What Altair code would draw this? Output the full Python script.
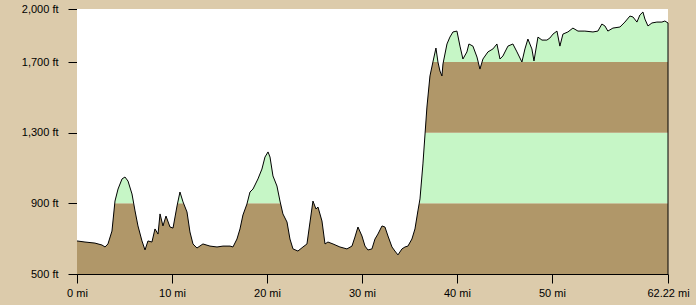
import altair as alt
import pandas as pd

# Elevation profile (distance in miles, elevation in feet)
miles = [0.00, 0.84, 1.89, 2.63, 2.95, 3.26, 3.68, 4.00, 4.32, 4.74, 5.05, 5.37, 5.79, 6.11,
         6.42, 6.84, 7.16, 7.47, 7.89, 8.21, 8.53, 8.74, 9.05, 9.37, 9.79, 10.11, 10.53,
         10.84, 11.16, 11.58, 11.89, 12.21, 12.63, 13.26, 14.00, 14.74, 15.37, 16.11, 16.42,
         16.84, 17.16, 17.47, 17.89, 18.21, 18.53, 19.05, 19.47, 19.79, 20.11, 20.32, 20.63,
         21.05, 21.37, 21.68, 22.11, 22.42, 22.74, 23.26, 23.79, 24.21, 24.53, 24.84, 25.16,
         25.37, 25.79, 26.11, 26.42, 26.95, 27.68, 28.42, 28.95, 29.26, 29.58, 30.00, 30.32,
         30.63, 31.05, 31.37, 31.68, 32.11, 32.42, 32.74, 33.16, 33.47, 33.79, 34.21, 34.53,
         34.84, 35.26, 35.58, 35.89, 36.11, 36.42, 36.84, 37.16, 37.47, 37.79, 38.00, 38.21,
         38.42, 38.53, 38.95, 39.26, 39.58, 40.00, 40.32, 40.63, 41.05, 41.26, 41.68, 42.11,
         42.42, 42.74, 43.26, 43.79, 44.21, 44.53, 44.84, 45.37, 45.89, 46.32, 46.84, 47.16,
         47.47, 47.89, 48.11, 48.53, 48.95, 49.47, 49.79, 50.11, 50.53, 50.84, 51.16, 51.68,
         52.21, 52.74, 53.47, 54.32, 54.84, 55.26, 55.58, 55.89, 56.42, 57.16, 57.68, 58.21,
         58.53, 58.95, 59.26, 59.58, 59.79, 60.11, 60.53, 61.05, 61.58, 61.89, 62.22]
elev = [687, 681, 675, 664, 653, 670, 743, 913, 981, 1038, 1049, 1026, 953, 857,
        772, 687, 636, 687, 681, 755, 726, 840, 772, 828, 766, 760, 885,
        964, 908, 851, 738, 670, 647, 670, 658, 653, 658, 658, 653,
        698, 755, 834, 896, 964, 981, 1038, 1094, 1162, 1191, 1162, 1055,
        998, 913, 840, 794, 698, 642, 630, 653, 670, 794, 913, 868,
        879, 800, 670, 681, 670, 653, 642, 658, 709, 766, 715, 658,
        636, 642, 698, 726, 772, 766, 715, 653, 630, 608, 642, 653,
        658, 698, 755, 857, 925, 1123, 1445, 1621, 1700, 1779, 1700, 1649,
        1621, 1689, 1802, 1841, 1870, 1875, 1790, 1717, 1757, 1802, 1790, 1728,
        1660, 1717, 1757, 1774, 1802, 1717, 1734, 1790, 1802, 1757, 1700, 1774,
        1830, 1774, 1706, 1841, 1824, 1824, 1836, 1858, 1875, 1790, 1858, 1870,
        1892, 1875, 1875, 1870, 1875, 1915, 1904, 1875, 1892, 1898, 1926, 1960,
        1955, 1926, 1966, 1983, 1943, 1904, 1921, 1926, 1926, 1932, 1921]

# Elevation colour bands
band_lo = [500, 900, 1300, 1700]
band_hi = [900, 1300, 1700, 2000]
band_color = ["#b09769", "#c6f6c6", "#b09769", "#c6f6c6"]

x_ticks = [0, 10, 20, 30, 40, 50, 62.22]
y_ticks = [500, 900, 1300, 1700, 2000]
x_max = 62.22
y_min, y_max = 500, 2000

prof = pd.DataFrame({"mi": miles, "ft": elev})
bands = pd.DataFrame({"lo": band_lo, "hi": band_hi, "c": band_color})

W, H = 591, 265
FONT = "Liberation Sans"

xs = alt.Scale(domain=[0, x_max], nice=False, zero=False)
ys = alt.Scale(domain=[y_min, y_max], nice=False, zero=False)

xa = alt.Axis(values=x_ticks, labelExpr="datum.value + ' mi'", title=None, grid=False,
              tickSize=9, tickColor="black", domainColor="black", labelColor="black",
              labelFont=FONT, labelFontSize=11, labelPadding=4, labelFlush=False,
              labelOverlap=False)
ya = alt.Axis(values=y_ticks, labelExpr="format(datum.value, ',') + ' ft'", title=None,
              grid=False, tickSize=9, tickColor="black", domainColor="black",
              labelColor="black", labelFont=FONT, labelFontSize=11, labelPadding=10,
              labelOverlap=False, labelFlush=False)

band_layer = alt.Chart(bands).mark_rect().encode(
    x=alt.value(0), x2=alt.value(W),
    y=alt.Y("lo:Q", scale=ys, axis=ya), y2="hi:Q",
    color=alt.Color("c:N", scale=None),
)

mask = alt.Chart(prof).mark_area(color="white", opacity=1).encode(
    x=alt.X("mi:Q", scale=xs, axis=xa),
    y=alt.Y("ft:Q", scale=ys, axis=ya),
    y2=alt.datum(y_max),
)

line = alt.Chart(prof).mark_line(color="black", strokeWidth=1).encode(
    x=alt.X("mi:Q", scale=xs, axis=xa),
    y=alt.Y("ft:Q", scale=ys, axis=ya),
)

end_rule = alt.Chart(prof).transform_filter(alt.datum.mi == x_max).mark_rule(
    color="black", strokeWidth=1).encode(
    x=alt.X("mi:Q", scale=xs, axis=xa),
    y=alt.Y("ft:Q", scale=ys, axis=ya),
    y2=alt.datum(y_min),
)

chart = alt.layer(band_layer, mask, line, end_rule).properties(
    width=W, height=H,
    autosize=alt.AutoSizeParams(type="none"),
    padding={"left": 77, "top": 9, "right": 28, "bottom": 31},
    background="#dccbab",
).configure_view(fill="white", strokeWidth=0)

chart.save("out.html", embed_options={"renderer": "svg", "actions": False})
